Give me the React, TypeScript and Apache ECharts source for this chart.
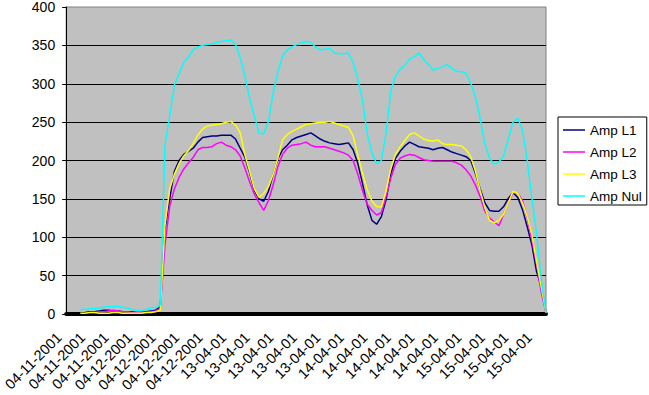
import React, { useEffect, useRef } from 'react';
import * as echarts from 'echarts';

// Category labels: each date covers a run of sample points
const dateLabels = ['04-11-2001', '04-12-2001', '13-04-01', '14-04-01', '15-04-01'];
const dateCounts = [15, 20, 25, 25, 18];

const ampL1 = [
  null, null, null, null, 2, 3, 3, 4, 5, 5,
  4, 4, 3, 3, 3, 2, 2, 3, 4, 5,
  9, 110, 150, 186, 200, 208, 212, 216, 224, 230,
  231, 232, 232, 233, 233, 233, 228, 216, 204, 184,
  161, 150, 147, 160, 182, 202, 214, 220, 227, 230,
  232, 234, 236, 232, 228, 225, 223, 222, 221, 222,
  223, 214, 196, 170, 142, 122, 117, 127, 149, 182,
  203, 212, 219, 224, 221, 218, 217, 216, 214, 216,
  217, 214, 211, 209, 207, 205, 200, 183, 163, 145,
  135, 134, 134, 140, 151, 158, 152, 136, 114, 90,
  55, 36, 2,
];

const ampL2 = [
  null, null, null, null, null, 2, 2, 3, 3, 4,
  5, 4, 3, 3, 2, 2, 2, 2, 3, 4,
  7, 90, 140, 163, 178, 189, 197, 204, 214, 217,
  217, 218, 222, 224, 220, 218, 214, 206, 190, 172,
  156, 145, 135, 148, 168, 192, 208, 216, 220, 221,
  222, 224, 220, 218, 218, 218, 216, 214, 212, 210,
  207, 200, 182, 161, 143, 135, 129, 132, 153, 177,
  195, 203, 206, 208, 207, 204, 201, 200, 199, 199,
  199, 199, 199, 197, 194, 188, 180, 168, 153, 134,
  125, 120, 115, 130, 145, 158, 157, 148, 125, 96,
  65, 28, 2,
];

const ampL3 = [
  null, null, null, 1, 1, 2, 2, 1, 1, 1,
  2, 2, 1, 1, 1, 1, 1, 2, 2, 3,
  5, 115, 163, 182, 196, 206, 213, 222, 233, 241,
  245, 246, 247, 248, 250, 251, 246, 236, 207, 186,
  163, 152, 157, 166, 182, 203, 227, 234, 238, 241,
  244, 247, 248, 249, 250, 250, 251, 249, 247, 245,
  243, 232, 207, 183, 162, 147, 140, 139, 160, 190,
  208, 218, 226, 234, 236, 232, 228, 226, 225, 227,
  222, 221, 221, 220, 219, 214, 205, 186, 161, 139,
  122, 119, 122, 130, 145, 160, 157, 145, 127, 103,
  68, 35, 2,
];

const ampNul = [
  null, null, null, 6, 6, 7, 7, 8, 9, 10,
  10, 10, 9, 8, 6, 5, 5, 6, 8, 9,
  12, 220, 258, 298, 313, 328, 335, 344, 348, 350,
  351, 352, 354, 355, 356, 357, 351, 334, 310, 281,
  258, 236, 235, 251, 288, 315, 336, 344, 348, 351,
  353, 355, 354, 348, 344, 345, 346, 340, 339, 339,
  340, 328, 306, 278, 235, 210, 196, 200, 235, 290,
  310, 319, 324, 332, 335, 340, 332, 325, 318, 320,
  322, 325, 320, 316, 316, 314, 301, 283, 255, 222,
  203, 195, 198, 206, 228, 250, 255, 240, 200, 152,
  105, 45, 2,
];

const seriesNames = ['Amp L1', 'Amp L2', 'Amp L3', 'Amp Nul'];
const seriesColors = ['#000080', '#FF00FF', '#FFFF00', '#00FFFF'];
const seriesData = [ampL1, ampL2, ampL3, ampNul];

const categories: string[] = [];
dateLabels.forEach((d, k) => {
  for (let j = 0; j < dateCounts[k]; j++) categories.push(d);
});

export default function App() {
  const ref = useRef<HTMLDivElement>(null);
  useEffect(() => {
    if (!ref.current) return;
    const chart = echarts.init(ref.current, null, { renderer: 'svg' });
    const font = '"Liberation Sans", Arial, sans-serif';
    chart.setOption({
      animation: false,
      backgroundColor: '#ffffff',
      textStyle: { fontFamily: font },
      grid: {
        left: 63,
        right: 103,
        top: 7,
        bottom: 80,
        show: true,
        backgroundColor: '#C0C0C0',
        borderColor: '#808080',
        borderWidth: 1,
      },
      xAxis: {
        type: 'category',
        data: categories,
        boundaryGap: false,
        offset: 2,
        axisLine: { show: true, lineStyle: { color: '#000000', width: 4 } },
        axisTick: { show: false },
        splitLine: { show: false },
        axisLabel: {
          interval: 4,
          rotate: 45,
          margin: 12,
          color: '#000000',
          fontSize: 14.5,
          fontFamily: font,
          padding: [0, 10, 0, 0],
        },
      },
      yAxis: {
        type: 'value',
        min: 0,
        max: 400,
        interval: 50,
        axisLine: { show: true, lineStyle: { color: '#000000', width: 1 } },
        axisTick: { show: true, length: 4, lineStyle: { color: '#000000' } },
        axisLabel: { margin: 11, color: '#000000', fontSize: 14, fontFamily: font },
        splitLine: { show: true, showMaxLine: false, lineStyle: { color: '#000000', width: 1 } },
      },
      legend: {
        orient: 'vertical',
        left: 558,
        top: 117,
        data: seriesNames,
        icon: 'rect',
        itemWidth: 22,
        itemHeight: 1.5,
        itemGap: 6,
        padding: [5, 5, 1, 5],
        backgroundColor: '#ffffff',
        borderColor: '#000000',
        borderWidth: 1,
        borderRadius: 0,
        textStyle: { color: '#000000', fontSize: 13.5, lineHeight: 16, fontFamily: font },
      },
      series: seriesNames.map((name, k) => ({
        name,
        type: 'line',
        data: seriesData[k],
        symbol: 'none',
        showSymbol: false,
        color: seriesColors[k],
        lineStyle: { color: seriesColors[k], width: 1.5 },
      })),
    });
    return () => chart.dispose();
  }, []);
  return (
    <div
      ref={ref}
      style={{ position: 'fixed', left: 0, top: 0, width: 649, height: 395 }}
    />
  );
}
